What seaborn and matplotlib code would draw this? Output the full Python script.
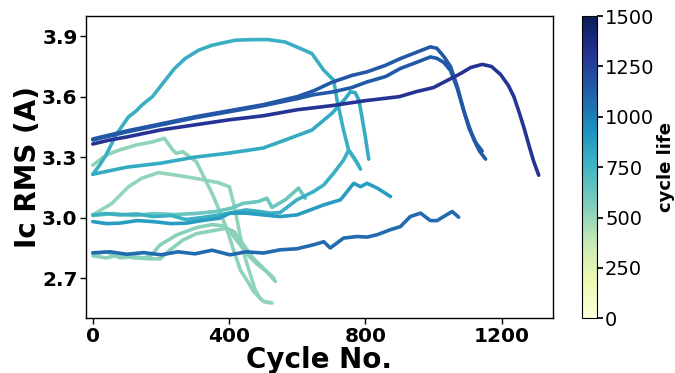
import numpy as np
import pandas as pd
import matplotlib
matplotlib.use("Agg")
import matplotlib.pyplot as plt
import seaborn as sns

# ---- data ----
cycle_life = [1310, 1153, 1143, 786, 810, 780, 874, 1074, 624, 526, 515, 536, 531]

xA = [0, 50, 100, 200, 300, 400, 500, 600, 700, 800, 900, 950, 1000, 1040, 1080, 1110, 1143, 1170, 1197, 1220, 1236, 1250, 1265, 1280, 1294, 1309]
yA = [3.365, 3.385, 3.40, 3.435, 3.46, 3.485, 3.505, 3.535, 3.555, 3.58, 3.60, 3.625, 3.645, 3.68, 3.715, 3.745, 3.76, 3.75, 3.71, 3.655, 3.60, 3.53, 3.45, 3.36, 3.28, 3.21]

xB = [0, 100, 200, 300, 400, 500, 600, 650, 700, 760, 805, 860, 903, 950, 991, 1010, 1030, 1050, 1070, 1089, 1105, 1119, 1135, 1153]
yB = [3.39, 3.43, 3.465, 3.50, 3.53, 3.56, 3.60, 3.63, 3.67, 3.705, 3.723, 3.756, 3.789, 3.82, 3.847, 3.84, 3.80, 3.75, 3.65, 3.53, 3.45, 3.385, 3.33, 3.29]

xC = [0, 100, 200, 300, 400, 500, 600, 650, 706, 760, 805, 860, 903, 950, 991, 1010, 1030, 1050, 1070, 1089, 1105, 1125, 1143]
yC = [3.385, 3.425, 3.46, 3.495, 3.525, 3.555, 3.59, 3.61, 3.624, 3.645, 3.673, 3.70, 3.74, 3.77, 3.797, 3.79, 3.77, 3.73, 3.64, 3.53, 3.44, 3.37, 3.33]

xD = [0, 20, 39, 68, 88, 105, 128, 144, 175, 212, 240, 271, 310, 350, 418, 470, 515, 565, 609, 643, 678, 707, 717, 736, 751, 771, 786]
yD = [3.215, 3.26, 3.31, 3.41, 3.459, 3.50, 3.53, 3.558, 3.60, 3.68, 3.74, 3.789, 3.83, 3.855, 3.88, 3.883, 3.883, 3.871, 3.839, 3.814, 3.731, 3.682, 3.583, 3.434, 3.335, 3.286, 3.24]

xE = [0, 100, 200, 300, 400, 500, 565, 643, 702, 741, 756, 770, 781, 790, 800, 810]
yE = [3.215, 3.25, 3.27, 3.30, 3.32, 3.345, 3.385, 3.434, 3.517, 3.59, 3.624, 3.62, 3.583, 3.50, 3.40, 3.29]

xK = [0, 40, 78, 130, 176, 230, 274, 320, 372, 450, 490, 521, 550, 599, 648, 678, 707, 736, 751, 765, 780]
yK = [3.013, 3.02, 3.013, 3.018, 3.005, 3.01, 2.99, 3.0, 3.013, 3.038, 3.03, 3.022, 3.025, 3.088, 3.129, 3.162, 3.22, 3.285, 3.335, 3.30, 3.26]

xL = [0, 40, 78, 130, 176, 230, 274, 320, 372, 403, 450, 501, 550, 599, 639, 678, 727, 766, 786, 805, 835, 874]
yL = [2.98, 2.97, 2.972, 2.985, 2.98, 2.97, 2.972, 2.985, 2.997, 3.022, 3.022, 3.013, 3.005, 3.013, 3.038, 3.063, 3.088, 3.17, 3.153, 3.17, 3.146, 3.104]

xM = [0, 50, 100, 150, 200, 250, 300, 350, 403, 450, 501, 550, 599, 648, 678, 697, 736, 776, 805, 835, 874, 903, 932, 962, 991, 1011, 1030, 1055, 1074]
yM = [2.825, 2.83, 2.818, 2.826, 2.815, 2.83, 2.82, 2.838, 2.815, 2.83, 2.824, 2.84, 2.845, 2.865, 2.88, 2.849, 2.898, 2.906, 2.903, 2.915, 2.94, 2.955, 3.005, 3.022, 2.985, 2.985, 3.005, 3.03, 3.002]

xJ = [0, 60, 120, 180, 240, 300, 360, 408, 440, 487, 511, 526, 565, 604, 624]
yJ = [3.01, 3.02, 3.01, 3.02, 3.015, 3.02, 3.03, 3.047, 3.07, 3.08, 3.096, 3.05, 3.088, 3.146, 3.096]

xF = [0, 39, 78, 127, 176, 210, 235, 245, 264, 304, 333, 350, 379, 394, 413, 433, 452, 472, 501, 526]
yF = [3.26, 3.31, 3.335, 3.36, 3.376, 3.393, 3.335, 3.319, 3.327, 3.277, 3.178, 3.12, 3.005, 2.94, 2.84, 2.74, 2.69, 2.634, 2.584, 2.576]

xG = [0, 56, 105, 144, 193, 242, 300, 369, 401, 416, 431, 446, 462, 477, 490, 500, 515]
yG = [3.013, 3.07, 3.153, 3.195, 3.223, 3.211, 3.195, 3.173, 3.153, 3.054, 2.923, 2.807, 2.72, 2.64, 2.60, 2.585, 2.578]

xH = [0, 40, 80, 120, 150, 170, 198, 247, 304, 350, 380, 403, 430, 452, 482, 511, 536]
yH = [2.82, 2.83, 2.80, 2.805, 2.80, 2.81, 2.865, 2.914, 2.95, 2.965, 2.96, 2.93, 2.87, 2.82, 2.77, 2.73, 2.683]

xI = [0, 40, 80, 120, 168, 198, 227, 266, 304, 353, 392, 415, 440, 470, 500, 531]
yI = [2.81, 2.80, 2.815, 2.80, 2.795, 2.795, 2.84, 2.89, 2.92, 2.935, 2.947, 2.93, 2.87, 2.80, 2.75, 2.70]

xs = [xA, xB, xC, xD, xE, xK, xL, xM, xJ, xF, xG, xH, xI]
ys = [yA, yB, yC, yD, yE, yK, yL, yM, yJ, yF, yG, yH, yI]

x_ticks = [0, 400, 800, 1200]
y_ticks = [2.7, 3.0, 3.3, 3.6, 3.9]
cbar_ticks = [0, 250, 500, 750, 1000, 1250, 1500]

# ---- build long table ----
frames = []
for i, (x, y, life) in enumerate(zip(xs, ys, cycle_life)):
    frames.append(pd.DataFrame({"cycle": x, "ic": y, "life": life, "cell": i}))
df = pd.concat(frames, ignore_index=True)

sns.set_theme(style="ticks")
plt.rcParams["font.family"] = ["DejaVu Sans"]
plt.rcParams.update({"text.color": "black", "axes.labelcolor": "black",
                     "xtick.color": "black", "ytick.color": "black",
                     "axes.edgecolor": "black"})

fig = plt.figure(figsize=(6.75, 3.73), dpi=100)
ax = fig.add_axes([0.1274, 0.1466, 0.6914, 0.8104])
cax = fig.add_axes([0.8618, 0.1466, 0.0222, 0.8104])

cmap = plt.get_cmap("YlGnBu")
norm = matplotlib.colors.Normalize(vmin=0, vmax=1500)

sns.lineplot(data=df, x="cycle", y="ic", hue="life", units="cell", estimator=None,
             palette=cmap, hue_norm=norm, linewidth=2.6, legend=False, sort=False, ax=ax)

ax.set_xlim(-20, 1350)
ax.set_ylim(2.5, 4.0)
ax.set_xticks(x_ticks)
ax.set_yticks(y_ticks)
ax.set_xticklabels([str(t) for t in x_ticks], fontsize=14.5, fontweight="bold", color="black")
ax.set_yticklabels([f"{t:.1f}" for t in y_ticks], fontsize=14.5, fontweight="bold", color="black")
ax.set_xlabel("Cycle No.", fontsize=20, fontweight="bold", labelpad=0, color="black")
ax.set_ylabel("Ic RMS (A)", fontsize=20, fontweight="bold", labelpad=0, color="black")
for s in ax.spines.values():
    s.set_linewidth(1.0)
    s.set_color("black")
ax.tick_params(axis="both", length=4, width=1, color="black", labelcolor="black", pad=2)

sm = matplotlib.cm.ScalarMappable(norm=norm, cmap=cmap)
sm.set_array([])
cb = fig.colorbar(sm, cax=cax, ticks=cbar_ticks)
cb.ax.tick_params(labelsize=14, length=4, pad=2, color="black", labelcolor="black")
cb.set_label("cycle life", fontsize=13, fontweight="bold", labelpad=2, color="black")
cb.outline.set_linewidth(0.8)
cb.outline.set_edgecolor("black")

fig.savefig("out.png", dpi=100)
